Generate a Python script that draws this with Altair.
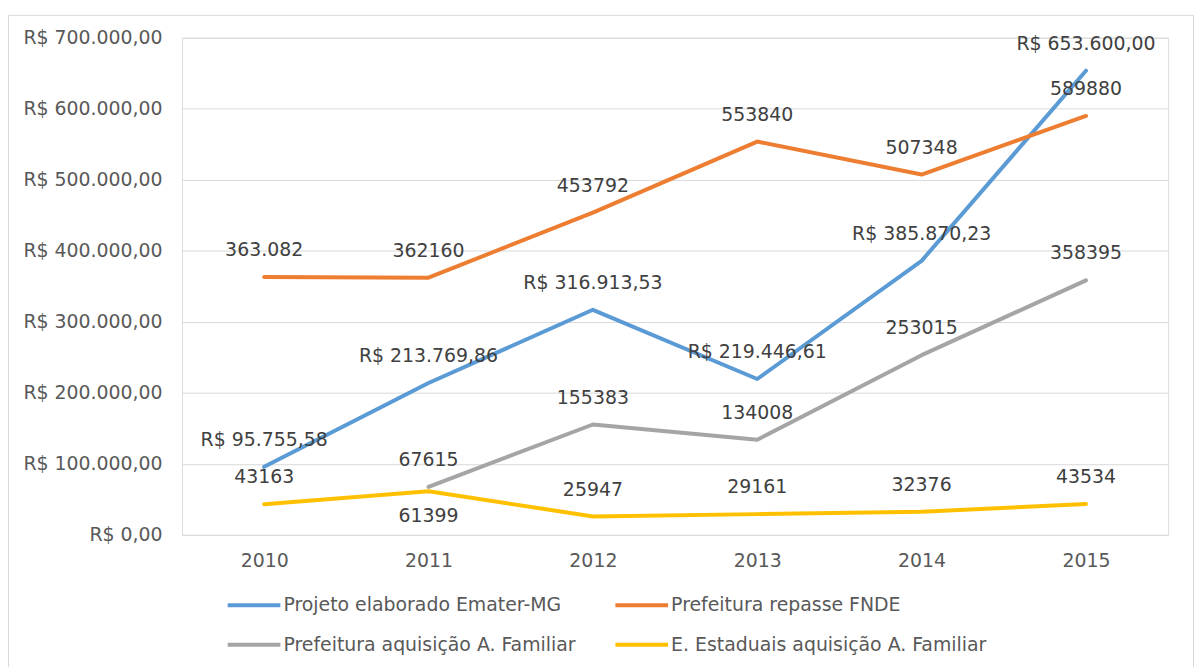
import altair as alt
import pandas as pd

years = ["2010", "2011", "2012", "2013", "2014", "2015"]
series_names = [
    "Projeto elaborado Emater-MG",
    "Prefeitura repasse FNDE",
    "Prefeitura aquisição A. Familiar",
    "E. Estaduais aquisição A. Familiar",
]
colors = ["#5B9BD5", "#ED7D31", "#A5A5A5", "#FFC000"]

emater = [95755.58, 213769.86, 316913.53, 219446.61, 385870.23, 653600.00]
emater_labels = ["R$ 95.755,58", "R$ 213.769,86", "R$ 316.913,53",
                 "R$ 219.446,61", "R$ 385.870,23", "R$ 653.600,00"]
fnde = [363082, 362160, 453792, 553840, 507348, 589880]
fnde_labels = ["363.082", "362160", "453792", "553840", "507348", "589880"]
pref_af = [None, 67615, 155383, 134008, 253015, 358395]
pref_af_labels = [None, "67615", "155383", "134008", "253015", "358395"]
est_af = [43163, 61399, 25947, 29161, 32376, 43534]
est_af_labels = ["43163", "61399", "25947", "29161", "32376", "43534"]

y_ticks = [0, 100000, 200000, 300000, 400000, 500000, 600000, 700000]
y_tick_labels = ["R$ 0,00", "R$ 100.000,00", "R$ 200.000,00", "R$ 300.000,00",
                 "R$ 400.000,00", "R$ 500.000,00", "R$ 600.000,00", "R$ 700.000,00"]

# labels placed below their point (series, year)
below_labels = [("E. Estaduais aquisição A. Familiar", "2011")]

rows = []
for name, vals, labs in zip(series_names,
                            [emater, fnde, pref_af, est_af],
                            [emater_labels, fnde_labels, pref_af_labels, est_af_labels]):
    for yr, v, lab in zip(years, vals, labs):
        if v is None:
            continue
        rows.append({"year": yr, "series": name, "value": v, "label": lab,
                     "below": (name, yr) in below_labels})
df = pd.DataFrame(rows)

FONT = "DejaVu Sans"
FS = 19
label_expr = "[" + ",".join(f"'{s}'" for s in y_tick_labels) + "][round(datum.value/100000)]"

x_enc = alt.X("year:O", sort=years, title=None,
              scale=alt.Scale(padding=0.5),
              axis=alt.Axis(labelAngle=0, domain=False, ticks=False, grid=False,
                            labelFont=FONT, labelFontSize=FS, labelColor="#595959",
                            labelPadding=17))
y_enc = alt.Y("value:Q", title=None,
              scale=alt.Scale(domain=[0, 700000], nice=False, zero=True),
              axis=alt.Axis(values=y_ticks, labelExpr=label_expr, domain=False, ticks=False,
                            grid=True, gridColor="#d9d9d9", gridWidth=1,
                            labelFont=FONT, labelFontSize=FS, labelColor="#595959",
                            labelPadding=20))

color_enc = alt.Color("series:N", sort=series_names,
                      scale=alt.Scale(domain=series_names, range=colors),
                      legend=alt.Legend(orient="none", legendX=63, legendY=561, columns=2,
                                        direction="horizontal",
                                        title=None, symbolType="M-5,0H5", symbolSize=112.36,
                                        symbolStrokeWidth=4, labelOffset=20,
                                        labelFont=FONT, labelFontSize=FS, labelColor="#595959",
                                        labelLimit=0, columnPadding=31, rowPadding=20,
                                        padding=0))

base = alt.Chart(df)

lines = base.mark_line(strokeWidth=4, strokeCap="round", strokeJoin="round").encode(
    x=x_enc, y=y_enc, color=color_enc, detail="series:N"
)

text_above = base.transform_filter("!datum.below").mark_text(
    dy=-27, font=FONT, fontSize=FS, color="#404040"
).encode(x=alt.X("year:O", sort=years), y="value:Q", text="label:N")

text_below = base.transform_filter("datum.below").mark_text(
    dy=25, font=FONT, fontSize=FS, color="#404040"
).encode(x=alt.X("year:O", sort=years), y="value:Q", text="label:N")

frame_data = alt.Data(values=[{"k": 1}])
frame_top = alt.Chart(frame_data).mark_rule(color="#d9d9d9", strokeWidth=1).encode(
    x=alt.value(-174.5), x2=alt.value(1017.5), y=alt.value(-22.5))
frame_left = alt.Chart(frame_data).mark_rule(color="#d9d9d9", strokeWidth=1).encode(
    x=alt.value(-174.5), y=alt.value(-22.5), y2=alt.value(640))
frame_right = alt.Chart(frame_data).mark_rule(color="#d9d9d9", strokeWidth=1).encode(
    x=alt.value(1017.5), y=alt.value(-22.5), y2=alt.value(640))

chart = alt.layer(frame_top, frame_left, frame_right, lines, text_above, text_below).properties(
    width=992, height=500,
    autosize=alt.AutoSizeParams(type="none"),
    padding={"left": 175, "top": 28, "right": 27, "bottom": 131},
).configure_view(stroke=None).configure(background="white")

chart.save("out.html", embed_options={"renderer": "svg", "actions": False})
